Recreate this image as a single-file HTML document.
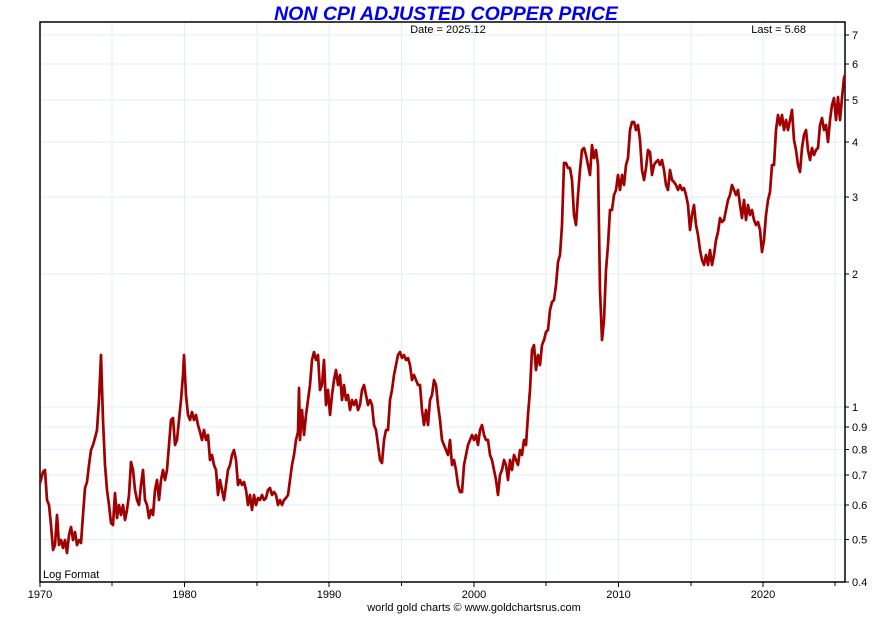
<!DOCTYPE html>
<html><head><meta charset="utf-8"><style>
body{margin:0;background:#fff;}
svg text{font-family:"Liberation Sans",Arial,sans-serif;}
</style></head><body>
<svg width="890" height="625" xmlns="http://www.w3.org/2000/svg">
<rect width="890" height="625" fill="#fff"/>
<g stroke="#e3eef8" stroke-width="1">
<line x1="112" y1="22" x2="112" y2="582"/><line x1="184.5" y1="22" x2="184.5" y2="582"/><line x1="257" y1="22" x2="257" y2="582"/><line x1="329" y1="22" x2="329" y2="582"/><line x1="401.5" y1="22" x2="401.5" y2="582"/><line x1="474" y1="22" x2="474" y2="582"/><line x1="546" y1="22" x2="546" y2="582"/><line x1="618.5" y1="22" x2="618.5" y2="582"/><line x1="691" y1="22" x2="691" y2="582"/><line x1="763" y1="22" x2="763" y2="582"/><line x1="835" y1="22" x2="835" y2="582"/>
<line x1="40" y1="35" x2="845" y2="35"/><line x1="40" y1="64" x2="845" y2="64"/><line x1="40" y1="100" x2="845" y2="100"/><line x1="40" y1="142" x2="845" y2="142"/><line x1="40" y1="197" x2="845" y2="197"/><line x1="40" y1="274" x2="845" y2="274"/><line x1="40" y1="407" x2="845" y2="407"/><line x1="40" y1="427" x2="845" y2="427"/><line x1="40" y1="449.5" x2="845" y2="449.5"/><line x1="40" y1="475" x2="845" y2="475"/><line x1="40" y1="505" x2="845" y2="505"/><line x1="40" y1="539.5" x2="845" y2="539.5"/>
</g>
<rect x="40" y="22" width="805" height="560" fill="none" stroke="#000" stroke-width="1.5"/>
<g stroke="#000" stroke-width="1">
<line x1="40" y1="582" x2="40" y2="587"/><line x1="112" y1="582" x2="112" y2="586"/><line x1="184.5" y1="582" x2="184.5" y2="587"/><line x1="257" y1="582" x2="257" y2="586"/><line x1="329" y1="582" x2="329" y2="587"/><line x1="401.5" y1="582" x2="401.5" y2="586"/><line x1="474" y1="582" x2="474" y2="587"/><line x1="546" y1="582" x2="546" y2="586"/><line x1="618.5" y1="582" x2="618.5" y2="587"/><line x1="691" y1="582" x2="691" y2="586"/><line x1="763" y1="582" x2="763" y2="587"/><line x1="835" y1="582" x2="835" y2="586"/>
<line x1="845" y1="35" x2="849" y2="35"/><line x1="845" y1="64" x2="849" y2="64"/><line x1="845" y1="100" x2="849" y2="100"/><line x1="845" y1="142" x2="849" y2="142"/><line x1="845" y1="197" x2="849" y2="197"/><line x1="845" y1="274" x2="849" y2="274"/><line x1="845" y1="407" x2="849" y2="407"/><line x1="845" y1="427" x2="849" y2="427"/><line x1="845" y1="449.5" x2="849" y2="449.5"/><line x1="845" y1="475" x2="849" y2="475"/><line x1="845" y1="505" x2="849" y2="505"/><line x1="845" y1="539.5" x2="849" y2="539.5"/><line x1="845" y1="582" x2="849" y2="582"/>
</g>
<g font-size="11" fill="#000">
<text x="852" y="39">7</text><text x="852" y="68">6</text><text x="852" y="104">5</text><text x="852" y="146">4</text><text x="852" y="201">3</text><text x="852" y="278">2</text><text x="852" y="411">1</text><text x="852" y="431">0.9</text><text x="852" y="453.5">0.8</text><text x="852" y="479">0.7</text><text x="852" y="509">0.6</text><text x="852" y="543.5">0.5</text><text x="852" y="586">0.4</text>
<text x="40" y="598" text-anchor="middle">1970</text><text x="184.5" y="598" text-anchor="middle">1980</text><text x="329" y="598" text-anchor="middle">1990</text><text x="474" y="598" text-anchor="middle">2000</text><text x="618.5" y="598" text-anchor="middle">2010</text><text x="763" y="598" text-anchor="middle">2020</text>
<text x="474" y="611" text-anchor="middle">world gold charts © www.goldchartsrus.com</text>
<text x="448" y="33" text-anchor="middle">Date = 2025.12</text>
<text x="806" y="33" text-anchor="end">Last = 5.68</text>
<text x="43" y="578">Log Format</text>
</g>
<text x="446" y="20" text-anchor="middle" font-size="19.5" font-weight="bold" font-style="italic" fill="#0000ee">NON CPI ADJUSTED COPPER PRICE</text>
<polyline fill="none" stroke="#a00000" stroke-width="2.7" stroke-linejoin="round" points="40,483 43,472 45,470 47,500 49,505 51,525 53,550 55,545 57,515 59,545 61,540 63,548 65,540 67,553 69,535 71,527 73,540 75,532 77,545 79,540 81,543 83,515 85,488 87,482 89,465 91,450 93,445 95,438 97,430 99,400 101,355 103,420 105,465 107,490 109,505 111,523 113,525 115,493 117,518 119,505 121,515 123,505 125,520 127,510 129,495 131,462 133,470 135,490 137,500 139,505 141,485 143,470 145,500 147,505 149,518 151,510 153,515 155,490 157,480 159,500 161,480 163,470 165,480 167,470 169,445 171,420 173,418 175,445 177,440 179,420 181,400 183,375 184,355 186,395 188,415 190,420 192,412 194,420 196,415 198,425 200,432 202,440 204,430 206,440 208,435 210,460 212,455 214,465 216,470 218,495 220,480 222,490 224,500 226,485 228,470 230,465 232,455 234,450 236,460 238,485 240,480 242,485 244,482 246,490 248,505 250,495 252,510 254,495 256,505 258,498 260,500 262,495 264,500 266,498 268,490 270,488 272,495 274,492 276,495 278,505 280,500 282,505 284,500 286,498 288,495 290,480 292,465 294,455 296,440 298,432 299,388 300,440 302,410 304,435 306,415 308,400 310,385 312,360 314,352 316,360 318,355 320,390 322,385 324,360 326,405 328,390 330,415 332,395 334,380 336,370 338,385 340,375 342,400 344,385 346,400 348,395 350,410 352,400 354,405 356,400 358,410 360,405 362,390 364,385 366,395 368,405 370,400 372,405 374,425 376,430 378,445 380,460 382,463 384,440 386,430 388,430 390,400 392,390 394,375 396,365 398,355 400,352 402,358 404,355 406,360 408,358 410,365 412,380 414,375 416,380 418,385 420,385 422,410 424,425 426,410 428,425 430,400 432,395 434,380 436,385 438,405 440,420 442,440 444,445 446,450 448,455 450,440 452,465 454,460 456,470 458,485 460,492 462,492 464,465 466,455 468,445 470,440 472,435 474,440 476,435 478,445 480,430 482,425 484,435 486,440 488,440 490,455 492,460 494,470 496,480 498,495 500,475 502,470 504,460 506,465 508,480 510,460 512,470 514,455 516,460 518,465 520,450 522,455 524,440 526,445 528,415 530,390 532,350 534,345 536,370 538,355 540,365 542,345 544,340 546,332 548,330 550,310 552,302 554,300 556,285 558,262 560,255 562,225 564,163 566,163 568,168 570,168 572,180 574,215 576,225 578,195 580,170 582,150 584,148 586,155 588,165 590,175 592,145 594,158 596,150 598,165 600,290 602,340 604,320 606,270 608,245 610,210 612,210 614,195 616,190 618,175 620,190 622,175 624,185 626,165 628,158 630,130 632,122 634,122 636,130 638,125 640,140 642,170 644,180 646,168 648,150 650,152 652,175 654,165 656,162 658,160 660,165 662,160 664,170 666,185 668,190 670,170 672,180 674,182 676,185 678,190 680,185 682,190 684,188 686,195 688,205 690,230 692,215 694,205 696,225 698,235 700,250 702,260 704,265 706,255 708,265 710,250 712,265 714,255 716,240 718,232 720,218 722,222 724,220 726,210 728,200 730,195 732,185 734,190 736,195 738,190 740,205 742,218 744,200 746,220 748,205 750,215 752,210 754,220 756,225 758,222 760,230 762,252 764,240 766,215 768,200 770,192 772,165 774,165 776,130 778,115 780,125 782,115 784,130 786,120 788,130 790,120 792,110 794,140 796,150 798,165 800,172 802,148 804,135 806,130 808,150 810,160 812,148 814,155 816,150 818,148 820,125 822,118 824,130 826,125 828,142 830,120 832,105 834,98 836,120 838,97 840,120 842,98 844,78 845,75"/>
</svg>
</body></html>
